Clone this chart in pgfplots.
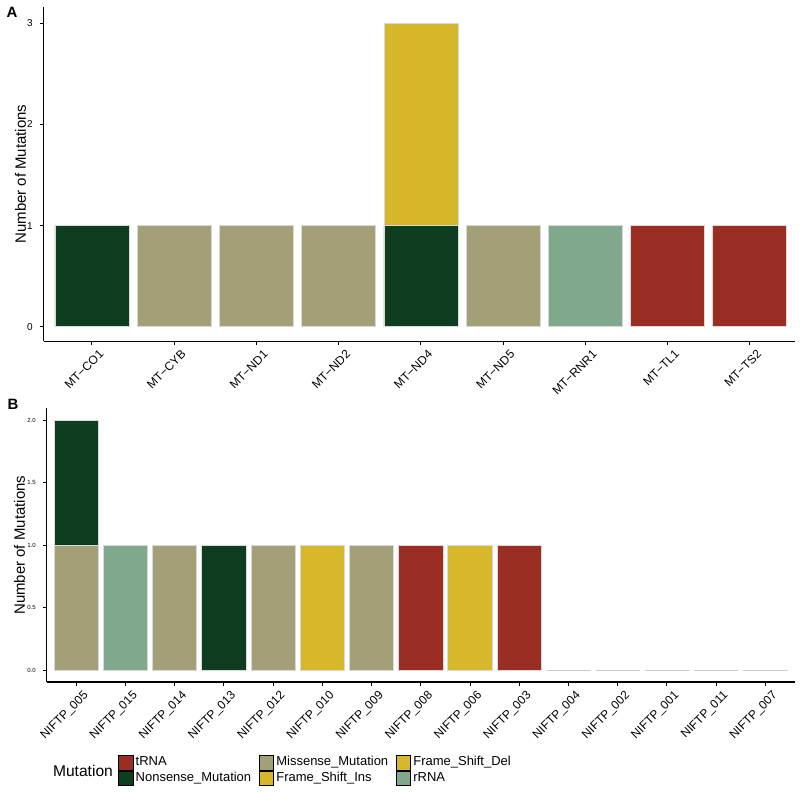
\documentclass[border=0pt]{standalone}
\usepackage{fontspec}
\setmainfont{Liberation Sans}
\usepackage{pgfplots}
\pgfplotsset{compat=1.18}

\definecolor{trna}{HTML}{9A2E22}
\definecolor{nons}{HTML}{0F3D20}
\definecolor{miss}{HTML}{A3A077}
\definecolor{fsins}{HTML}{D6B62A}
\definecolor{fsdel}{HTML}{D7B72B}
\definecolor{rrna}{HTML}{7FA88D}

\pgfplotsset{
  mutbase/.style={
    scale only axis, axis lines=left,
    axis line style={-, line width=0.7pt},
    tick align=outside, major tick length=2pt,
    every tick/.style={black, line width=0.5pt},
    xtick pos=bottom, ytick pos=left,
    /pgf/number format/assume math mode=true,
    xticklabel style={rotate=45, anchor=north east, inner sep=0.5pt,
      font=\fontsize{6}{7}\selectfont, xshift=1.5pt, yshift=-3pt},
    ylabel={Number of Mutations},
    legend image code/.code={\fill[##1] (0pt,-3.7pt) rectangle (7.3pt,3.7pt);},
  },
  bars/.style={ybar, bar width=0.9, bar shift=0pt, fill=#1, draw=black!15,
    line width=0.4pt, forget plot},
}

\begin{document}
\begin{tikzpicture}
\path (0pt,0pt) rectangle (400pt,-396.5pt);

% panel A
\begin{axis}[mutbase,
  at={(21.35pt,-170.85pt)}, anchor=south west,
  width=376.2pt, height=167.4pt,
  xmin=-0.587, xmax=8.55, ymin=-0.142, ymax=3.162,
  xtick={0,...,8}, ytick={0,1,2,3},
  xticklabels={MT−CO1,MT−CYB,MT−ND1,MT−ND2,MT−ND4,MT−ND5,MT−RNR1,MT−TL1,MT−TS2},
  yticklabel style={font=\fontsize{5}{6}\selectfont},
  ylabel style={at={(axis description cs:-0.0308,0.5)}, anchor=center,
    font=\fontsize{7.5}{9}\selectfont},
]
% Frame_Shift_Ins on MT-ND4 sits on top of 1 nonsense (stack top = 3)
\addplot[bars=fsins] coordinates {(4,3)};
\addplot[bars=nons] coordinates {(0,1)(4,1)};
\addplot[bars=miss] coordinates {(1,1)(2,1)(3,1)(5,1)};
\addplot[bars=rrna] coordinates {(6,1)};
\addplot[bars=trna] coordinates {(7,1)(8,1)};
\end{axis}

% panel B
\begin{axis}[mutbase,
  at={(22.85pt,-341.5pt)}, anchor=south west,
  width=374.6pt, height=137pt,
  xmin=-0.6, xmax=14.6, ymin=-0.096, ymax=2.096,
  xtick={0,...,14}, ytick={0,0.5,1,1.5,2},
  yticklabel style={font=\fontsize{3}{3.5}\selectfont,
    /pgf/number format/.cd, fixed, fixed zerofill, precision=1},
  xticklabels={NIFTP\_005,NIFTP\_015,NIFTP\_014,NIFTP\_013,NIFTP\_012,NIFTP\_010,
    NIFTP\_009,NIFTP\_008,NIFTP\_006,NIFTP\_003,NIFTP\_004,NIFTP\_002,NIFTP\_001,
    NIFTP\_011,NIFTP\_007},
  ylabel style={at={(axis description cs:-0.0363,0.5)}, anchor=center,
    font=\fontsize{7.5}{9}\selectfont},
  legend columns=3, legend cell align=left,
  legend style={at={(rel axis cs:0.0952,-0.2664)}, anchor=north west,
    draw=none, fill=none, inner sep=0pt, outer sep=0pt,
    font=\fontsize{6.5}{7.5}\selectfont,
    nodes={inner xsep=1.2pt, inner ysep=0.4pt, text height=4.8pt, text depth=1.7pt},
    /tikz/every even column/.append style={column sep=2.5pt},
    /tikz/every odd column/.append style={column sep=0pt}},
]
% NIFTP_005: 1 missense + 1 nonsense on top (stack top = 2)
\addplot[bars=nons] coordinates {(0,2)(3,1)};
\addplot[bars=miss] coordinates {(0,1)(2,1)(4,1)(6,1)};
\addplot[bars=rrna] coordinates {(1,1)};
\addplot[bars=fsdel] coordinates {(5,1)(8,1)};
\addplot[bars=trna] coordinates {(7,1)(9,1)};
\addplot[ybar, bar width=0.9, bar shift=0pt, fill=none, draw=black!20,
  line width=0.5pt, forget plot] coordinates {(10,0)(11,0)(12,0)(13,0)(14,0)};

\addlegendimage{fill=trna}\addlegendentry{tRNA}
\addlegendimage{fill=miss}\addlegendentry{Missense\_Mutation}
\addlegendimage{fill=fsdel}\addlegendentry{Frame\_Shift\_Del}
\addlegendimage{fill=nons}\addlegendentry{Nonsense\_Mutation}
\addlegendimage{fill=fsins}\addlegendentry{Frame\_Shift\_Ins}
\addlegendimage{fill=rrna}\addlegendentry{rRNA}
\end{axis}

\node[font=\bfseries\fontsize{7.5}{9}\selectfont] at (5.5pt,-6.25pt) {A};
\node[font=\bfseries\fontsize{7.5}{9}\selectfont] at (6pt,-202.5pt) {B};
\node[font=\fontsize{7.8}{9}\selectfont, inner sep=0pt] at (41pt,-385.8pt) {Mutation};
\end{tikzpicture}
\end{document}
